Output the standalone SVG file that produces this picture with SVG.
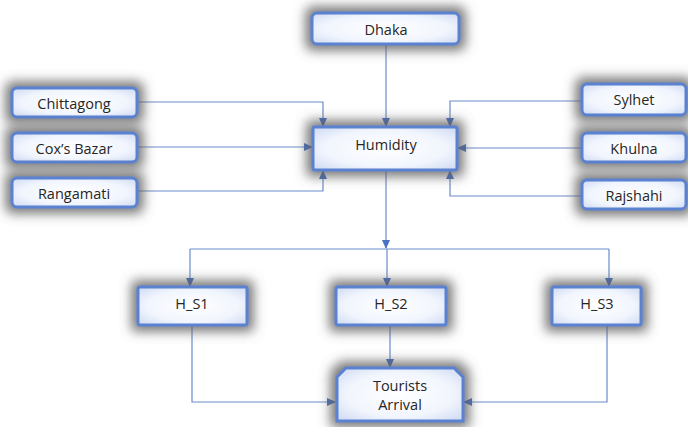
<svg xmlns="http://www.w3.org/2000/svg" width="688" height="427" viewBox="0 0 688 427">
<defs>
<radialGradient id="fillg" cx="50%" cy="50%" r="70%">
<stop offset="0" stop-color="#ffffff"/>
<stop offset="0.6" stop-color="#f1f5fd"/>
<stop offset="1" stop-color="#cdd9f2"/>
</radialGradient>
<filter id="sh" x="-30%" y="-80%" width="160%" height="260%">
<feMorphology in="SourceAlpha" operator="dilate" radius="5" result="d"/>
<feGaussianBlur in="d" stdDeviation="6" result="b"/>
<feFlood flood-color="#5e5e5e" flood-opacity="0.85"/>
<feComposite in2="b" operator="in" result="s"/>
<feMerge><feMergeNode in="s"/><feMergeNode in="SourceGraphic"/></feMerge>
</filter>
<marker id="ar" markerWidth="10" markerHeight="10" refX="8" refY="4" orient="auto" markerUnits="userSpaceOnUse">
<path d="M0,0 L9,4 L0,8 Z" fill="#4a72c4"/>
</marker>
</defs>
<style>
.box{fill:url(#fillg);stroke:#5a82d0;stroke-width:3;filter:url(#sh)}
.t{font-family:"Open Sans","Liberation Sans",sans-serif;font-size:14.5px;font-weight:500;fill:#262626;text-anchor:middle;dominant-baseline:central}
.c{fill:none;stroke:#6a8ccc;stroke-width:1.2;marker-end:url(#ar)}
</style>
<rect width="688" height="427" fill="#ffffff"/>
<g id="connectors">
<path class="c" d="M386,44 V126"/>
<path class="c" d="M137,102 H323 V126"/>
<path class="c" d="M137,147 H312"/>
<path class="c" d="M137,191 H323 V171"/>
<path class="c" d="M582,101 H450 V126"/>
<path class="c" d="M582,148 H458"/>
<path class="c" d="M582,196 H450 V171"/>
<path class="c" d="M386,170 V248"/>
<path fill="none" stroke="#6a8ccc" stroke-width="1.2" d="M190,249 H609"/>
<path class="c" d="M190,249 V286"/>
<path class="c" d="M387,249 V286"/>
<path class="c" d="M609,249 V286"/>
<path class="c" d="M192,326 V402 H335"/>
<path class="c" d="M390,326 V367"/>
<path class="c" d="M607,326 V402 H464"/>
</g>
<g id="dhaka"><rect class="box" x="312" y="13" width="147" height="31" rx="5"/><text class="t" x="386" y="29">Dhaka</text></g>
<g id="chittagong"><rect class="box" x="12" y="88" width="125" height="29" rx="5"/><text class="t" x="74" y="103">Chittagong</text></g>
<g id="coxsbazar"><rect class="box" x="12" y="133" width="125" height="29" rx="5"/><text class="t" x="74" y="148">Cox’s Bazar</text></g>
<g id="rangamati"><rect class="box" x="12" y="178" width="125" height="29" rx="5"/><text class="t" x="74" y="193">Rangamati</text></g>
<g id="humidity"><rect class="box" x="313" y="127" width="144" height="43" rx="2"/><text class="t" x="386" y="144">Humidity</text></g>
<g id="sylhet"><rect class="box" x="582" y="84" width="104" height="31" rx="5"/><text class="t" x="634" y="99">Sylhet</text></g>
<g id="khulna"><rect class="box" x="582" y="133" width="104" height="29" rx="5"/><text class="t" x="634" y="148">Khulna</text></g>
<g id="rajshahi"><rect class="box" x="582" y="180" width="104" height="29" rx="5"/><text class="t" x="634" y="195">Rajshahi</text></g>
<g id="hs1"><rect class="box" x="138" y="287" width="109" height="38" rx="2"/><text class="t" x="192" y="303">H_S1</text></g>
<g id="hs2"><rect class="box" x="336" y="287" width="110" height="38" rx="2"/><text class="t" x="391" y="303">H_S2</text></g>
<g id="hs3"><rect class="box" x="552" y="287" width="89" height="38" rx="2"/><text class="t" x="597" y="303">H_S3</text></g>
<g id="tourists"><path class="box" d="M346,368 H454 L463,377 V421 H337 V377 Z"/><text class="t" x="400" y="385">Tourists</text><text class="t" x="400" y="404">Arrival</text></g>
</svg>
